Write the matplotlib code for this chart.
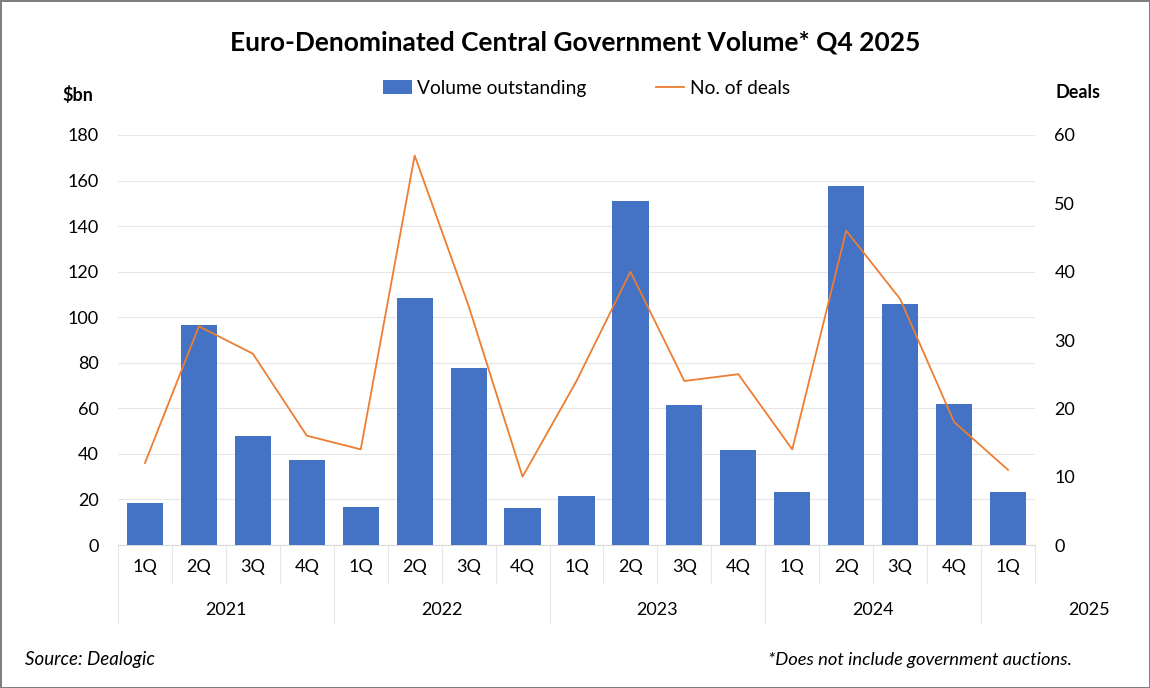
import matplotlib.pyplot as plt
import matplotlib.transforms as mtransforms
import numpy as np

# 数据
quarters = ['1Q', '2Q', '3Q', '4Q', '1Q', '2Q', '3Q', '4Q', '1Q', '2Q', '3Q', '4Q',
            '1Q', '2Q', '3Q', '4Q', '1Q']
years = ['2021', '2022', '2023', '2024', '2025']
volume = [18.4, 96.6, 47.8, 37.3, 16.7, 108.4, 77.7, 16.2, 21.5, 151.0, 61.5, 41.7,
          23.3, 157.6, 105.8, 61.9, 23.3]
deals = [12, 32, 28, 16, 14, 57, 35, 10, 24, 40, 24, 25, 14, 46, 36, 18, 11]

plt.rcParams['font.family'] = ['Lato', 'DejaVu Sans']

fig = plt.figure(figsize=(11.5, 6.88), dpi=100)
fig.patch.set_edgecolor('#7f7f7f')
fig.patch.set_linewidth(2)
ax = fig.add_axes([0.1026, 0.2078, 0.7974, 0.596])
ax2 = ax.twinx()

x = np.arange(len(quarters))
bars = ax.bar(x, volume, width=0.67, color='#4472C4', zorder=3, label='Volume outstanding')
line, = ax2.plot(x, deals, color='#ED7D31', linewidth=1.3, label='No. of deals')

ax.set_xlim(-0.5, len(quarters) - 0.5)
ax.set_ylim(0, 180)
ax.set_yticks(np.arange(0, 181, 20))
ax2.set_ylim(0, 60)
ax2.set_yticks(np.arange(0, 61, 10))

for a in (ax, ax2):
    for s in ['top', 'right', 'left', 'bottom']:
        a.spines[s].set_visible(False)
ax.spines['bottom'].set_visible(True)
ax.spines['bottom'].set_color('#d9d9d9')

ax.yaxis.grid(True, color='#e6e6e6', linewidth=0.8, zorder=0)
ax.set_axisbelow(True)

ax.tick_params(axis='y', length=0, pad=14, labelsize=13)
ax2.tick_params(axis='y', length=0, pad=14, labelsize=13)
ax.set_xticks(x)
ax.set_xticklabels(quarters, fontsize=13)
ax.tick_params(axis='x', length=0, pad=10)

# 分类分隔线
trans = mtransforms.blended_transform_factory(ax.transData, ax.transAxes)
for i in range(len(quarters) + 1):
    xb = i - 0.5
    if i % 4 == 0:
        ax.plot([xb, xb], [0, -0.19], transform=trans, color='#e6e6e6', lw=0.8, clip_on=False)
    else:
        ax.plot([xb, xb], [0, -0.093], transform=trans, color='#e6e6e6', lw=0.8, clip_on=False)

for k, yr in enumerate(years):
    if k < 4:
        xc = k * 4 + 1.5
    else:
        xc = 17.5
    ax.text(xc, -0.158, yr, transform=trans, ha='center', va='center', fontsize=13)

# 标题和标签
fig.text(0.5, 0.938, 'Euro-Denominated Central Government Volume* Q4 2025',
         ha='center', va='center', fontsize=19, fontweight='bold')
fig.text(0.068, 0.862, '$bn', ha='center', va='center', fontsize=13, fontweight='bold')
fig.text(0.937, 0.865, 'Deals', ha='center', va='center', fontsize=13, fontweight='bold')
fig.text(0.022, 0.041, 'Source: Dealogic', ha='left', va='center', fontsize=13.5, style='italic')
fig.text(0.932, 0.041, '*Does not include government auctions.', ha='right', va='center',
         fontsize=13.2, style='italic')

fig.legend(handles=[bars, line], loc='center', bbox_to_anchor=(0.51, 0.872), ncol=2,
           frameon=False, fontsize=13.8, columnspacing=3.6, handlelength=1.5, handletextpad=0.3)

plt.savefig('out.png', dpi=100)
